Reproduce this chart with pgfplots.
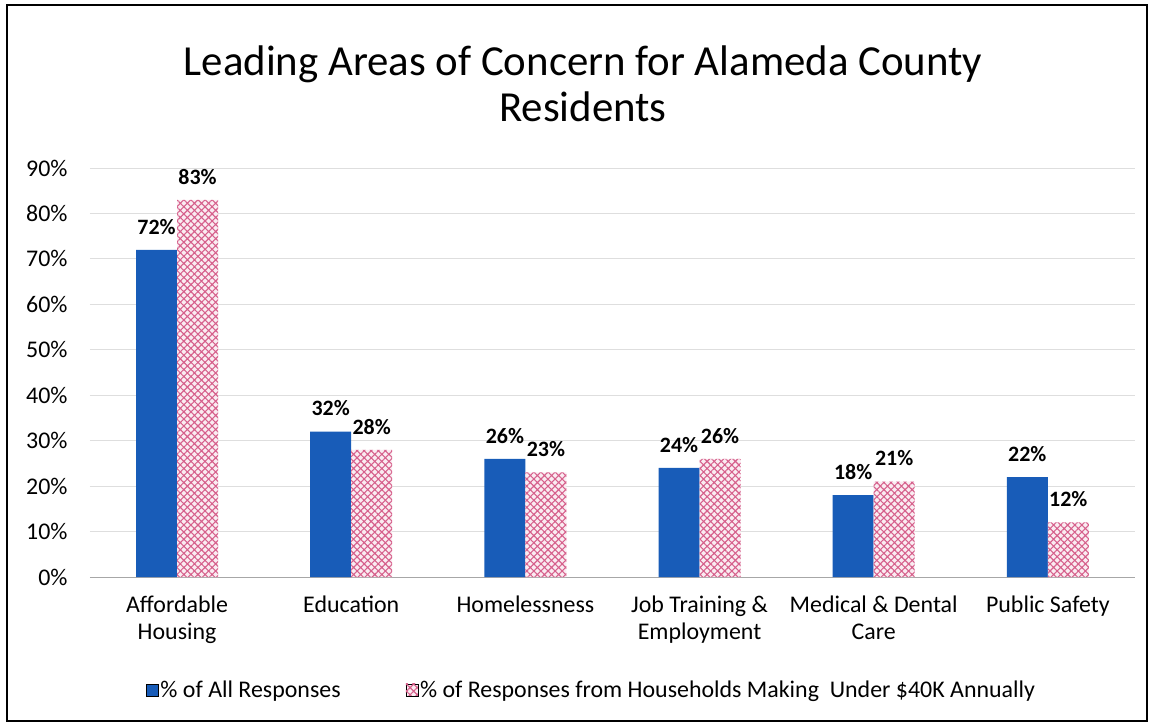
\documentclass[border=0pt]{standalone}
\usepackage{pgfplots}
\pgfplotsset{compat=1.18}
\usepackage{fontspec}
\setmainfont{Carlito}
\usetikzlibrary{patterns.meta}
\definecolor{barblue}{RGB}{24,92,184}
\definecolor{barpink}{RGB}{214,96,140}
\definecolor{gridgray}{RGB}{222,222,222}

\begin{document}
\begin{tikzpicture}[x=1bp,y=1bp]
  % fixes the page size to the reference's 1155x723
  \path (-90bp,-146bp) rectangle (1065bp,577bp);
  \draw[line width=1.5bp] (-83bp,-144bp) rectangle (1057bp,572bp);
  \node[align=center, font=\fontsize{43}{46}\selectfont] at (493bp,493bp)
    {Leading Areas of Concern for Alameda County\\Residents};
  \begin{axis}[
      at={(0,0)}, anchor=south west,
      scale only axis,
      width=1045bp, height=409bp,
      xmin=-0.5, xmax=5.5,
      ymin=0, ymax=90,
      xtick=data,
      xticklabels={Affordable\\Housing, Education, Homelessness, Job Training \&\\Employment, Medical \& Dental\\Care, Public Safety},
      xticklabel style={align=center, font=\fontsize{24}{27}\selectfont, yshift=-15bp},
      ytick={0,10,...,90},
      yticklabel={\pgfmathprintnumber{\tick}\%},
      yticklabel style={font=\fontsize{24}{26}\selectfont, xshift=-19bp},
      /pgf/number format/assume math mode=true,
      major tick length=0pt,
      axis lines*=left,
      y axis line style={draw=none},
      x axis line style={gridgray!75!black, -},
      ymajorgrids=true,
      grid style={gridgray, line width=0.8bp},
      ybar=0pt,
      bar width=41bp,
      nodes near coords={\pgfmathprintnumber{\pgfplotspointmeta}\%},
      every node near coord/.append style={font=\bfseries\fontsize{22}{24}\selectfont, black, yshift=12bp, /pgf/number format/assume math mode=true},
      legend columns=2,
      legend style={draw=none, at={(0.48,-0.276)}, anchor=center,
        font=\fontsize{24}{26}\selectfont,
        /tikz/every even column/.append style={column sep=63bp}},
      legend image code/.code={\draw[#1] (0bp,-6bp) rectangle (12bp,6bp);},
    ]
    \addplot[draw=none, fill=barblue] coordinates {
      (0,72) (1,32) (2,26) (3,24) (4,18) (5,22)};
    \addplot[draw=none, fill=barpink!12, postaction={pattern={Hatch[angle=45,distance=5bp,line width=1.1bp]}, pattern color=barpink}] coordinates {
      (0,83) (1,28) (2,23) (3,26) (4,21) (5,12)};
    \legend{\% of All Responses, \% of Responses from Households Making\ \ Under \$40K Annually}
  \end{axis}
\end{tikzpicture}
\end{document}
